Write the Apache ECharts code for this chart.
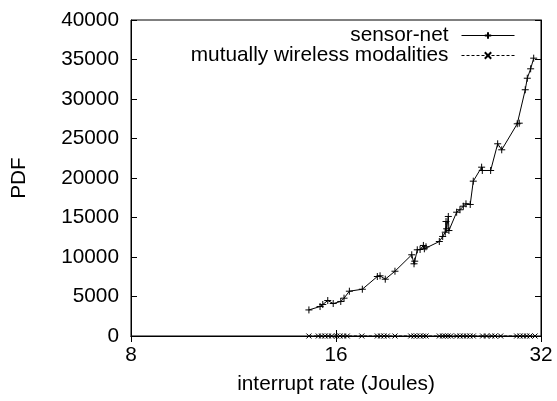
<!DOCTYPE html>
<html><head><meta charset="utf-8">
<script src="https://cdn.jsdelivr.net/npm/echarts@6/dist/echarts.min.js"></script>
<style>html,body{margin:0;padding:0;background:#fff}#c{width:557px;height:401px}</style>
</head><body><div id="c"></div>
<script>
const xTicks = [8, 16, 32];
const yTicks = [0, 5000, 10000, 15000, 20000, 25000, 30000, 35000, 40000];
const sensorX = [14.60,15.16,15.30,15.56,15.85,16.26,16.44,16.74,17.49,18.40,18.57,18.90,19.53,20.67,20.83,20.88,21.06,21.26,21.50,21.57,21.69,22.69,22.95,23.15,23.21,23.26,23.39,23.44,24.06,24.33,24.61,24.83,25.19,25.45,26.18,26.24,26.99,27.64,28.02,29.53,29.73,30.34,30.55,30.90,31.22];
const sensorY = [3300,3730,3990,4490,4110,4370,4790,5670,5920,7530,7620,7190,8200,10280,9140,9470,10910,10950,11460,11040,11290,11960,12600,13140,14490,13570,15130,13350,15670,15980,16430,16730,16650,19600,21370,20950,20950,24330,23570,26860,26940,31170,32630,33820,35170];
const mutualX = [14.60,15.07,15.24,15.42,15.59,15.77,16.04,16.22,16.40,16.62,17.46,18.40,18.61,18.82,19.03,19.53,20.60,20.83,21.02,21.26,21.50,21.69,22.69,22.95,23.15,23.37,23.58,24.06,24.33,24.61,24.89,25.17,25.45,26.27,26.63,27.08,27.39,27.92,29.47,29.80,30.14,30.49,30.83,31.36];
const mutualY = [0,0,0,0,0,0,0,0,0,0,0,0,0,0,0,0,0,0,0,0,0,0,0,0,0,0,0,0,0,0,0,0,0,0,0,0,0,0,0,0,0,0,0,0];

const font = 'Liberation Sans, Arial, sans-serif';
const fs = 20.8;
const plus = 'path://M0,5L10,5M5,0L5,10';
const cross = 'path://M0,0L10,10M0,10L10,0';
const chart = echarts.init(document.getElementById('c'), null, {renderer: 'canvas'});
const axisCommon = {
  axisLine: {show: true, lineStyle: {color: '#000', width: 1}},
  axisTick: {show: true, inside: true, length: 6, lineStyle: {color: '#000'}},
  splitLine: {show: false}
};
const legendText = {fontFamily: font, fontSize: fs, color: '#000', padding: [0, 8, 0, 0]};
chart.setOption({
  animation: false,
  backgroundColor: '#fff',
  grid: {left: 131, right: 16, top: 20, bottom: 65, show: true, borderColor: '#000', borderWidth: 1},
  legend: [
    {right: 42, top: 25, padding: 0, itemWidth: 53, itemHeight: 8, align: 'right', selectedMode: false,
     lineStyle: {width: 1}, data: ['sensor-net'], textStyle: legendText},
    {right: 42, top: 45, padding: 0, itemWidth: 53, itemHeight: 8, align: 'right', selectedMode: false,
     lineStyle: {width: 1}, data: ['mutually wireless modalities'], textStyle: legendText}
  ],
  xAxis: [{
    type: 'log', logBase: 2, min: 8, max: 32,
    name: 'interrupt rate (Joules)', nameLocation: 'middle', nameGap: 38,
    nameTextStyle: {fontFamily: font, fontSize: fs, color: '#000'},
    ...axisCommon,
    axisLabel: {color: '#000', fontFamily: font, fontSize: fs, margin: 9,
      formatter: v => xTicks.includes(Math.round(v)) ? String(Math.round(v)) : ''}
  }, {
    type: 'log', logBase: 2, min: 8, max: 32, position: 'top',
    ...axisCommon, axisLabel: {show: false}
  }],
  yAxis: [{
    type: 'value', min: yTicks[0], max: yTicks[yTicks.length - 1], interval: 5000,
    name: 'PDF', nameLocation: 'middle', nameGap: 101, nameRotate: 90,
    nameTextStyle: {fontFamily: font, fontSize: fs, color: '#000'},
    ...axisCommon,
    axisLabel: {color: '#000', fontFamily: font, fontSize: fs, margin: 12, formatter: v => String(v)}
  }, {
    type: 'value', min: yTicks[0], max: yTicks[yTicks.length - 1], interval: 5000, position: 'right',
    ...axisCommon, axisLabel: {show: false}
  }],
  series: [{
    name: 'sensor-net', type: 'line',
    data: sensorX.map((x, i) => [x, sensorY[i]]),
    symbol: plus, symbolSize: 7, showSymbol: true,
    lineStyle: {color: '#000', width: 1},
    itemStyle: {color: '#000', borderColor: '#000', borderWidth: 1},
    z: 3
  }, {
    name: 'mutually wireless modalities', type: 'line',
    data: mutualX.map((x, i) => [x, mutualY[i]]),
    symbol: cross, symbolSize: 5, showSymbol: true,
    lineStyle: {color: '#000', width: 1, type: [3, 2]},
    itemStyle: {color: '#000', borderColor: '#000', borderWidth: 1},
    z: 4
  }]
});
</script></body></html>
